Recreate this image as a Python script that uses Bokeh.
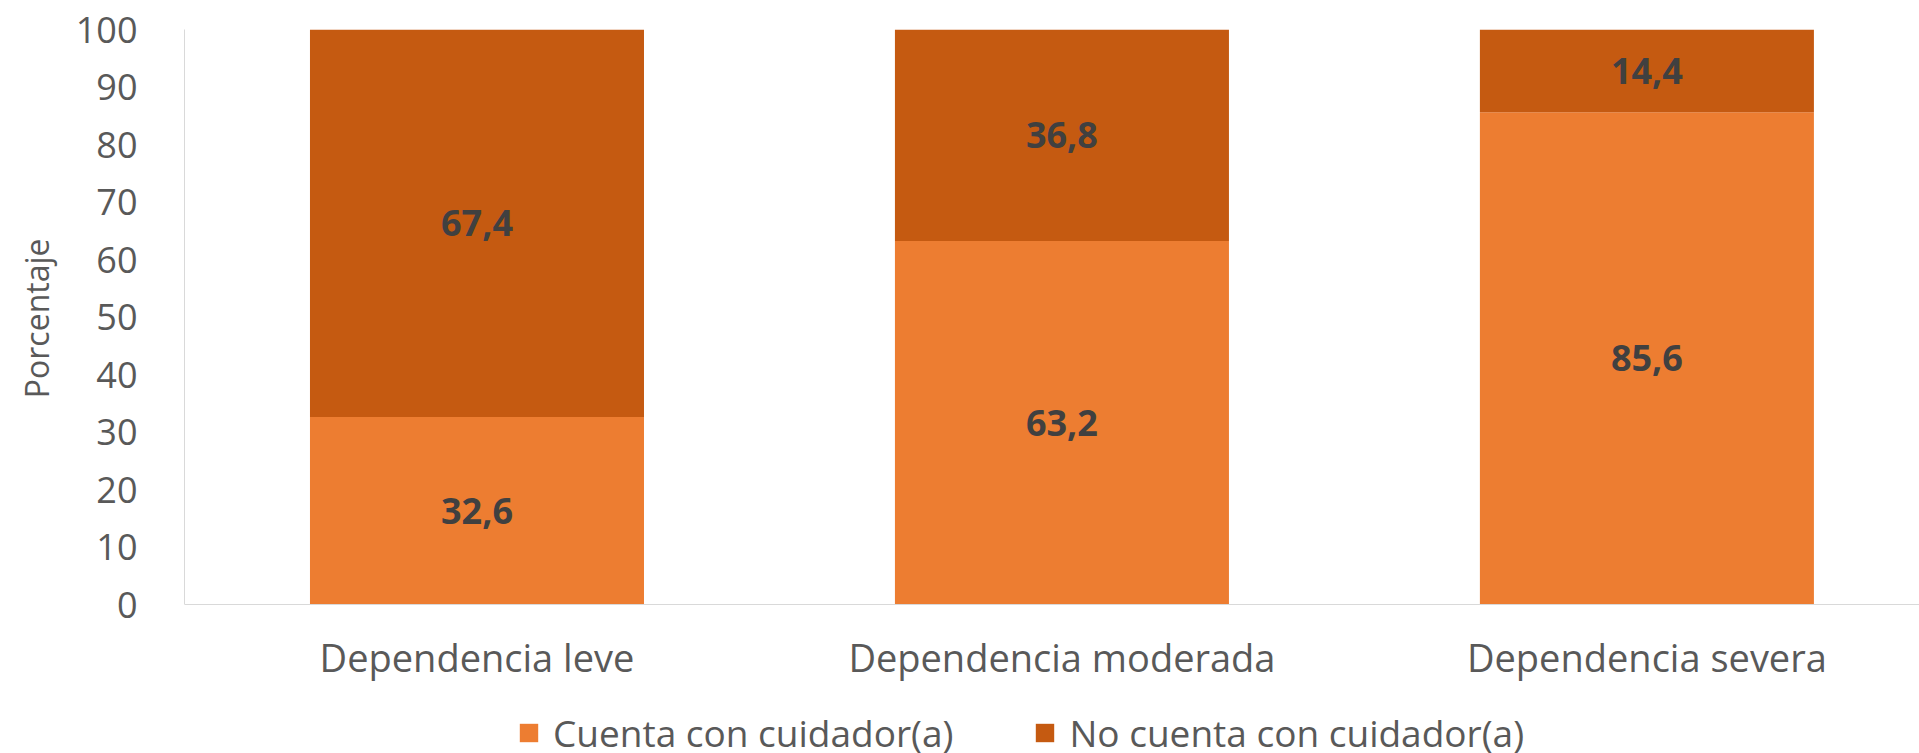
from bokeh.plotting import figure
from bokeh.models import ColumnDataSource, Range1d, FixedTicker, Legend, LegendItem, Title
from bokeh.core.properties import value
from bokeh.embed import file_html
from bokeh.resources import INLINE

categories = ["Dependencia leve", "Dependencia moderada", "Dependencia severa"]
con_cuidador = [32.6, 63.2, 85.6]
sin_cuidador = [67.4, 36.8, 14.4]
series_names = ["Cuenta con cuidador(a)", "No cuenta con cuidador(a)"]
y_ticks = [0, 10, 20, 30, 40, 50, 60, 70, 80, 90, 100]
y_title = "Porcentaje"

COL_A = "#ED7D31"
COL_B = "#C55A11"
TXT = "#595959"
FONT = "Open Sans"

xs = [i + 0.5 for i in range(len(categories))]

src = ColumnDataSource(dict(
    x=xs,
    a=con_cuidador,
    b=sin_cuidador,
))

p = figure(width=1919, height=753, output_backend="svg", toolbar_location=None,
           x_range=Range1d(0, 2.966), y_range=Range1d(-25.913, 100),
           min_border_left=184, min_border_right=0, min_border_top=29,
           min_border_bottom=0)
p.outline_line_color = None
p.grid.visible = False

rs = p.vbar_stack(["a", "b"], x="x", width=0.571, source=src,
                  color=[COL_A, COL_B], line_color=None)

# data labels
lab_x, lab_y, lab_t = [], [], []
for i, x in enumerate(xs):
    a = con_cuidador[i]
    b = sin_cuidador[i]
    lab_x += [x, x]
    lab_y += [a / 2, a + b / 2]
    lab_t += [f"{a:.1f}".replace(".", ","), f"{b:.1f}".replace(".", ",")]
p.text(x=lab_x, y=lab_y, text=lab_t, text_align="center", text_baseline="middle",
       text_font=value(FONT), text_font_size="36px", text_font_style="bold",
       text_color="#404040")

# x axis (drawn at y = 0)
xa = p.xaxis[0]
xa.fixed_location = 0
xa.ticker = FixedTicker(ticks=xs)
xa.major_label_overrides = {x: c for x, c in zip(xs, categories)}
xa.major_tick_line_color = None
xa.minor_tick_line_color = None
xa.axis_line_color = "#D9D9D9"
xa.major_label_text_font = FONT
xa.major_label_text_font_size = "38px"
xa.major_label_text_color = TXT
xa.major_label_standoff = 20

# y axis
ya = p.yaxis[0]
ya.bounds = (0, 100)
ya.ticker = FixedTicker(ticks=y_ticks)
ya.major_tick_line_color = None
ya.minor_tick_line_color = None
ya.axis_line_color = "#D9D9D9"
ya.major_label_text_font = FONT
ya.major_label_text_font_size = "36px"
ya.major_label_text_color = TXT
ya.major_label_standoff = 41

# y axis title, placed beside the 0-100 part of the axis
yt = Title(text=y_title, align="right", offset=209, vertical_align="top",
           standoff=26, text_font=FONT, text_font_size="32px",
           text_font_style="normal", text_color=TXT)
p.add_layout(yt, "left")

legend = Legend(items=[LegendItem(label=series_names[0], renderers=[rs[0]]),
                       LegendItem(label=series_names[1], renderers=[rs[1]])],
                orientation="horizontal", location=(333, -5),
                label_text_font=FONT, label_text_font_size="37px",
                label_text_color=TXT, glyph_width=23, glyph_height=23,
                label_standoff=13, spacing=80, padding=0, margin=0,
                border_line_color=None, background_fill_alpha=0)
p.add_layout(legend)

open("out.html", "w").write(file_html(p, INLINE))
